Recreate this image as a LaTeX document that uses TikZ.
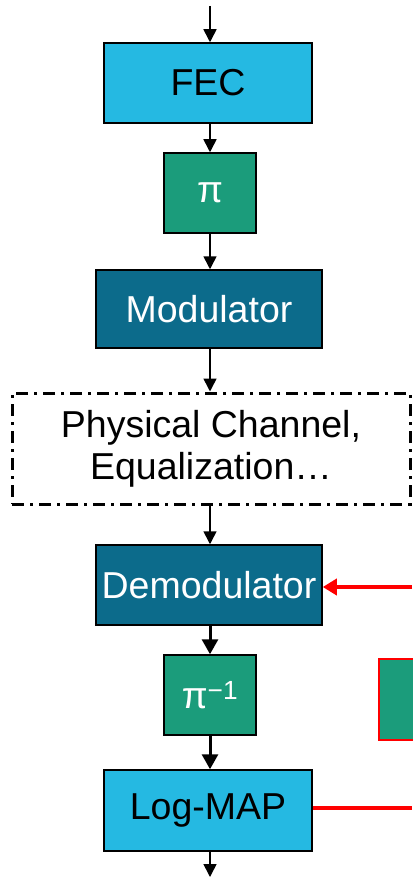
\documentclass[tikz,border=0pt]{standalone}
\usepackage{fontspec}
\setmainfont{Liberation Sans}
\usetikzlibrary{arrows.meta}
\definecolor{lblue}{HTML}{25B9E2}
\definecolor{dgreen}{HTML}{1B9C7B}
\definecolor{dteal}{HTML}{0C6B8B}
\definecolor{redline}{HTML}{FF0000}
\tikzset{
  blk/.style={draw=black, line width=1.5pt, rectangle, inner sep=0pt, font=\fontsize{37.5}{44}\selectfont},
  thinarr/.style={line width=1.6pt, -{Triangle[length=13pt,width=13pt]}},
  thickarr/.style={line width=3pt, -{Triangle[length=15pt,width=16pt]}},
  redarr/.style={draw=redline, line width=3.5pt, -{Triangle[length=14pt,width=16pt]}},
  redln/.style={draw=redline, line width=3.5pt},
}
\begin{document}
\begin{tikzpicture}[x=1pt,y=-1pt]
\useasboundingbox (0,0) rectangle (412,877);
% nodes
\node[blk, fill=lblue, minimum width=208pt, minimum height=80pt] (fec) at (208,83) {FEC};
\node[blk, fill=dgreen, text=white, minimum width=92pt, minimum height=80pt] (pi) at (210,193) {π};
\node[blk, fill=dteal, text=white, minimum width=226pt, minimum height=78pt] (mod) at (209,309) {Modulator};
\node[draw=black, line width=3pt, dash pattern=on 12pt off 6pt on 3pt off 6pt, rectangle, inner sep=0pt,
      minimum width=398pt, minimum height=111pt, align=center, font=\fontsize{37.5}{42}\selectfont] (chan) at (211,448.5)
      {Physical Channel,\\Equalization…};
\node[blk, fill=dteal, text=white, minimum width=226pt, minimum height=80pt] (demod) at (209,585) {Demodulator};
\node[blk, fill=dgreen, text=white, minimum width=92pt, minimum height=80pt] (ipi) at (210,695) {π\textsuperscript{−1}};
\node[blk, fill=lblue, minimum width=208pt, minimum height=81pt] (logmap) at (208,810.5) {Log-MAP};
\node[draw=redline, line width=1.5pt, fill=dgreen, rectangle, inner sep=0pt, minimum width=60pt, minimum height=81pt] (rbox) at (409,699.5) {};
% coordinates
\coordinate (top) at (210,6);
\coordinate (bot) at (210,877);
\coordinate (rin) at (412,587);
\coordinate (rout) at (412,808);
% connectors
\draw[thinarr] (top) -- (fec.north -| top);
\draw[thinarr] (fec.south -| top) -- (pi.north);
\draw[thinarr] (pi.south) -- (mod.north -| pi.south);
\draw[thinarr] (mod.south -| pi.south) -- (chan.north -| pi.south);
\draw[thinarr] (chan.south -| pi.south) -- (demod.north -| pi.south);
\draw[thickarr] (demod.south -| ipi.north) -- (ipi.north);
\draw[thickarr] (ipi.south) -- (logmap.north -| ipi.south);
\draw[thinarr] (logmap.south -| ipi.south) -- (bot);
\draw[redarr] (rin) -- (demod.east |- rin);
\draw[redln] (logmap.east |- rout) -- (rout);
\end{tikzpicture}
\end{document}
